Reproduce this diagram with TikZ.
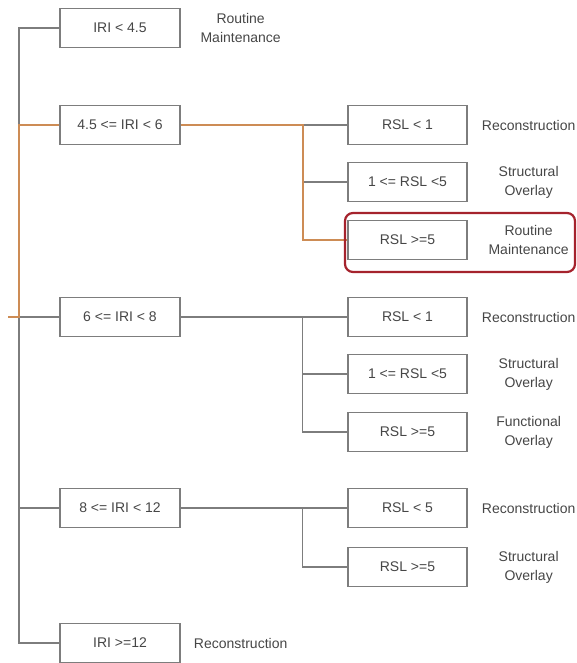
\documentclass[tikz,border=0pt]{standalone}
\usepackage{fontspec}
\setmainfont{Liberation Sans}
\usepackage{tikz}
\usetikzlibrary{positioning}

\definecolor{linegray}{RGB}{125,125,125}
\definecolor{txtgray}{RGB}{70,70,70}
\definecolor{pathorange}{RGB}{205,140,85}
\definecolor{markred}{RGB}{165,35,45}

\tikzset{
    cond/.style={
        draw=linegray,
        line width=1.3pt,
        fill=white,
        minimum width=120pt,
        minimum height=39pt,
        inner sep=0pt,
        text=txtgray,
        font=\fontsize{14}{19}\selectfont
    },
    action/.style={
        align=center,
        inner sep=0pt,
        text=txtgray,
        font=\fontsize{14}{19}\selectfont
    },
    conn/.style={draw=linegray, line width=1.3pt},
    chosen/.style={draw=pathorange, line width=1.8pt}
}

\begin{document}
\begin{tikzpicture}[x=1pt,y=-1pt]
                \useasboundingbox (0,0) rectangle (576,663);

                % IRI classes
                \node[cond] (iriA) at (120,28)  {IRI < 4.5};
                \node[cond] (iriB) at (120,125) {4.5 <= IRI < 6};
                \node[cond] (iriC) at (120,317) {6 <= IRI < 8};
                \node[cond] (iriD) at (120,508) {8 <= IRI < 12};
                \node[cond] (iriE) at (120,643) {IRI >=12};

                % RSL classes
                \node[cond, minimum width=119pt] (rslB1) at (407.5,125) {RSL < 1};
                \node[cond, minimum width=119pt] (rslB2) at (407.5,182) {1 <= RSL <5};
                \node[cond, minimum width=119pt] (rslB3) at (407.5,240) {RSL >=5};

                \node[cond, minimum width=119pt] (rslC1) at (407.5,317) {RSL < 1};
                \node[cond, minimum width=119pt] (rslC2) at (407.5,374) {1 <= RSL <5};
                \node[cond, minimum width=119pt] (rslC3) at (407.5,432) {RSL >=5};

                \node[cond, minimum width=119pt] (rslD1) at (407.5,508) {RSL < 5};
                \node[cond, minimum width=119pt] (rslD2) at (407.5,567) {RSL >=5};

                % treatments
                \node[action] (actA) at ([xshift=60pt]iriA.east) {Routine\\Maintenance};
                \node[action] (actE) at ([xshift=60pt]iriE.east) {Reconstruction};

                \node[action] (actB1) at ([xshift=61pt]rslB1.east) {Reconstruction};
                \node[action] (actB2) at ([xshift=61pt]rslB2.east) {Structural\\Overlay};
                \node[action] (actB3) at ([xshift=61pt]rslB3.east) {Routine\\Maintenance};

                \node[action] (actC1) at ([xshift=61pt]rslC1.east) {Reconstruction};
                \node[action] (actC2) at ([xshift=61pt]rslC2.east) {Structural\\Overlay};
                \node[action] (actC3) at ([xshift=61pt]rslC3.east) {Functional\\Overlay};

                \node[action] (actD1) at ([xshift=61pt]rslD1.east) {Reconstruction};
                \node[action] (actD2) at ([xshift=61pt]rslD2.east) {Structural\\Overlay};

                % tree lines
                \coordinate (root) at (8,317);
                \coordinate (trunk) at (19,317);
                \draw[conn] (root) -- (trunk);
                \foreach \n in {iriA,iriB,iriC,iriD,iriE}
                    \draw[conn] (trunk) |- (\n.west);

                \path (iriB.east) ++(122pt,0) coordinate (forkB);
                \path (iriC.east) ++(122pt,0) coordinate (forkC);
                \path (iriD.east) ++(122pt,0) coordinate (forkD);

                \draw[conn] (iriB.east) -- (forkB);
                \foreach \k in {rslB1,rslB2,rslB3}
                    \draw[conn] (forkB) |- (\k.west);

                \draw[conn] (iriC.east) -- (forkC);
                \foreach \k in {rslC1,rslC2,rslC3}
                    \draw[conn] (forkC) |- (\k.west);

                \draw[conn] (iriD.east) -- (forkD);
                \foreach \k in {rslD1,rslD2}
                    \draw[conn] (forkD) |- (\k.west);

                % chosen path
                \draw[chosen] (root) -- (trunk) |- (iriB.west);
                \draw[chosen] (iriB.east) -- (forkB) |- (rslB3.west);

                \draw[
                    draw=markred,
                    line width=2.2pt,
                    rounded corners=8pt
                ] (345,213) rectangle (575,272);

            \end{tikzpicture}
\end{document}
